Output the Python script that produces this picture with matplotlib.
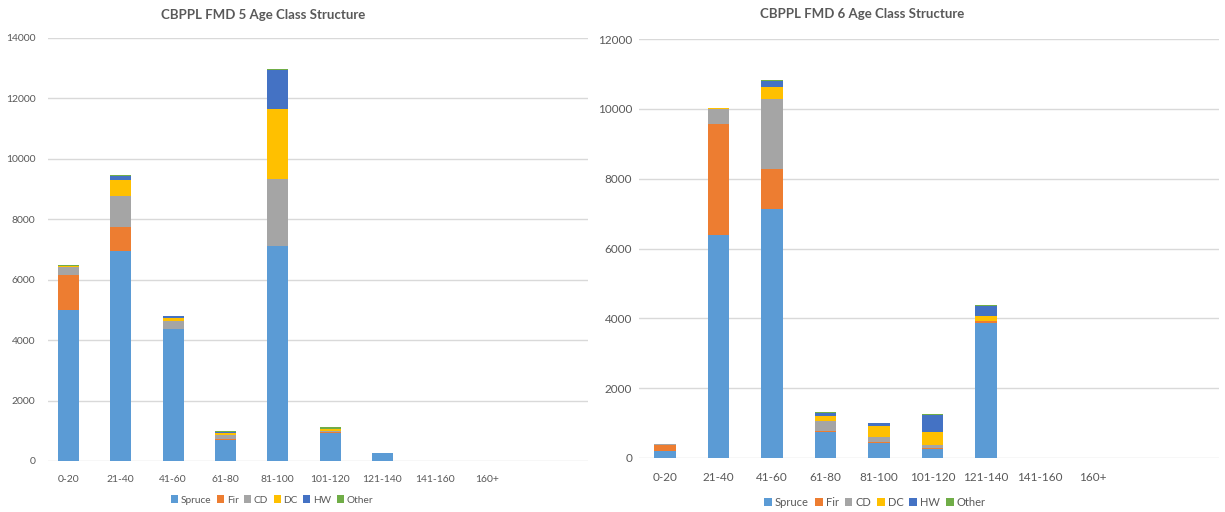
import numpy as np
import matplotlib
matplotlib.use("Agg")
import matplotlib.pyplot as plt

# age classes and species groups
age_classes = ["0-20", "21-40", "41-60", "61-80", "81-100", "101-120", "121-140", "141-160", "160+"]
species = ["Spruce", "Fir", "CD", "DC", "HW", "Other"]
colours = ["#5B9BD5", "#ED7D31", "#A5A5A5", "#FFC000", "#4472C4", "#70AD47"]

# FMD 5 area by species group, per age class
fmd5_spruce = [5000, 6950, 4355, 685, 7110, 940, 255, 0, 0]
fmd5_fir    = [1165, 780, 10, 50, 10, 5, 0, 0, 0]
fmd5_cd     = [250, 1025, 265, 120, 2200, 45, 0, 0, 0]
fmd5_dc     = [30, 560, 110, 80, 2315, 55, 0, 0, 0]
fmd5_hw     = [15, 120, 55, 40, 1300, 30, 15, 0, 0]
fmd5_other  = [25, 45, 10, 10, 45, 55, 0, 0, 0]

# FMD 6 area by species group, per age class
fmd6_spruce = [200, 6400, 7135, 755, 440, 265, 3865, 0, 0]
fmd6_fir    = [170, 3165, 1145, 30, 20, 10, 45, 0, 0]
fmd6_cd     = [30, 430, 2005, 285, 150, 85, 20, 0, 0]
fmd6_dc     = [0, 30, 335, 145, 295, 385, 145, 0, 0]
fmd6_hw     = [0, 0, 190, 85, 105, 485, 265, 0, 0]
fmd6_other  = [0, 0, 10, 30, 5, 40, 40, 0, 0]

GREY = "#595959"
GRID = "#D9D9D9"
plt.rcParams["font.family"] = ["Lato", "DejaVu Sans"]

W, H = 1225, 512
fig = plt.figure(figsize=(W / 100, H / 100), dpi=100)


def px_axes(x0, x1, y_top, y_bottom):
    return fig.add_axes([x0 / W, 1 - y_bottom / H, (x1 - x0) / W, (y_bottom - y_top) / H])


def draw_panel(ax, series, title, ymax, xlim, tick_size, ypad, title_x, title_y, leg_x, leg_y, leg_size):
    x = np.arange(len(age_classes))
    bottom = np.zeros(len(age_classes))
    for name, vals, col in zip(species, series, colours):
        vals = np.array(vals, dtype=float)
        ax.bar(x, vals, width=0.4, bottom=bottom, color=col, label=name,
               edgecolor="none", zorder=3)
        bottom += vals
    ax.set_xlim(*xlim)
    ax.set_ylim(0, ymax)
    ax.set_yticks(np.arange(0, ymax + 1, 2000))
    ax.set_xticks(x)
    ax.set_xticklabels(age_classes)
    ax.tick_params(length=0, labelsize=tick_size, colors=GREY)
    ax.tick_params(axis="y", pad=ypad)
    ax.tick_params(axis="x", pad=10)
    ax.grid(axis="y", color=GRID, linewidth=1, zorder=0)
    for s in ax.spines.values():
        s.set_visible(False)
    ax.set_axisbelow(True)
    fig.text(title_x, title_y, title, ha="center", va="center",
             fontsize=9.5, fontweight="bold", color=GREY)
    ax.legend(loc="center", bbox_to_anchor=(leg_x, leg_y), bbox_transform=fig.transFigure,
              ncol=6, frameon=False, fontsize=leg_size, labelcolor=GREY,
              handlelength=0.7, handleheight=0.7, handletextpad=0.25, columnspacing=0.55)


ax1 = px_axes(48, 588, 38, 461)
draw_panel(ax1, [fmd5_spruce, fmd5_fir, fmd5_cd, fmd5_dc, fmd5_hw, fmd5_other],
           "CBPPL FMD 5 Age Class Structure", 14000, (-0.39, 9.93), 7.5, 9,
           263 / W, 1 - 15 / H, 272 / W, 1 - 500 / H, 7.3)

ax2 = px_axes(639, 1219, 39, 458)
draw_panel(ax2, [fmd6_spruce, fmd6_fir, fmd6_cd, fmd6_dc, fmd6_hw, fmd6_other],
           "CBPPL FMD 6 Age Class Structure", 12000, (-0.486, 10.36), 8.5, 5,
           862 / W, 1 - 14 / H, 875 / W, 1 - 502 / H, 8)

fig.savefig("out.png", dpi=100, facecolor="white")
